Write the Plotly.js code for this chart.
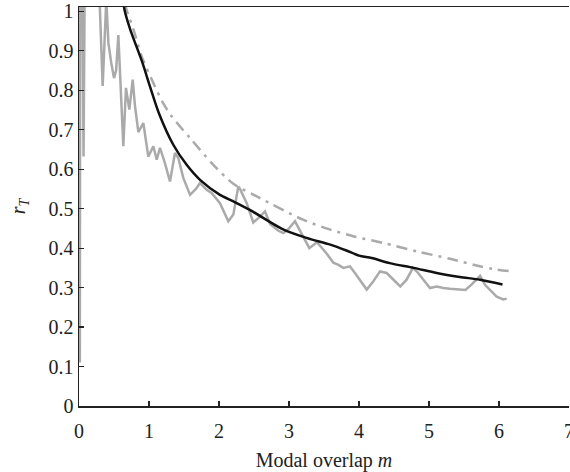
<!DOCTYPE html>
<html>
<head>
<meta charset="utf-8">
<script src="https://cdn.plot.ly/plotly-3.0.1.min.js"></script>
<style>html,body{margin:0;padding:0;overflow:hidden;background:#fff;}</style>
</head>
<body>
<div id="chart" style="width:570px;height:472px;"></div>
<script>
// Measured (noisy) r_T vs modal overlap m
var measM = [0.012,0.02,0.04,0.065,0.09,0.2,0.29,0.338,0.39,0.42,0.46,0.50,0.53,0.562,0.633,0.671,0.719,0.767,0.80,0.848,0.919,0.99,1.062,1.11,1.157,1.22,1.30,1.371,1.419,1.49,1.586,1.67,1.729,1.824,1.895,2.014,2.133,2.205,2.276,2.30,2.396,2.49,2.562,2.657,2.73,2.848,2.92,3.0,3.086,3.204,3.29,3.40,3.49,3.54,3.633,3.70,3.776,3.871,3.95,4.014,4.11,4.205,4.30,4.395,4.49,4.59,4.68,4.77,4.83,4.895,4.96,5.014,5.11,5.205,5.30,5.44,5.52,5.61,5.68,5.73,5.80,5.895,5.967,6.06,6.11];
var measR = [0.11,1.5,1.3,0.632,1.3,1.6,1.05,0.811,1.03,0.92,0.87,0.831,0.85,0.94,0.658,0.806,0.751,0.827,0.76,0.694,0.717,0.632,0.658,0.624,0.654,0.62,0.569,0.641,0.628,0.578,0.535,0.55,0.565,0.548,0.540,0.514,0.468,0.485,0.556,0.55,0.514,0.465,0.476,0.493,0.461,0.444,0.438,0.45,0.468,0.428,0.400,0.415,0.396,0.386,0.363,0.358,0.350,0.354,0.335,0.320,0.295,0.316,0.341,0.337,0.320,0.303,0.320,0.350,0.340,0.325,0.31,0.299,0.303,0.299,0.297,0.296,0.294,0.308,0.322,0.330,0.307,0.291,0.277,0.270,0.272];
// Smoothed estimate (black)
var smoothM = [0.63,0.65,0.73,0.90,1.01,1.15,1.347,1.538,1.729,2.014,2.2,2.44,2.9,3.25,3.59,3.82,4.0,4.18,4.44,4.78,5.11,5.44,5.73,6.05];
var smoothR = [1.03,1.004,0.955,0.873,0.812,0.738,0.662,0.611,0.573,0.535,0.519,0.497,0.449,0.426,0.409,0.394,0.381,0.375,0.362,0.350,0.337,0.327,0.320,0.308];
// Theoretical (dash-dot)
var theoM = [0.66,0.68,0.78,0.895,1.04,1.2,1.324,1.586,1.919,2.205,2.54,3.2,3.59,3.94,4.35,4.82,5.3,5.68,5.92,6.18];
var theoR = [1.02,1.004,0.953,0.886,0.827,0.768,0.734,0.679,0.611,0.563,0.531,0.472,0.447,0.429,0.413,0.392,0.373,0.356,0.347,0.341];
var xTicks = [0,1,2,3,4,5,6,7];
var yTicks = [0,0.1,0.2,0.3,0.4,0.5,0.6,0.7,0.8,0.9,1];
var yTickText = ['0','0.1','0.2','0.3','0.4','0.5','0.6','0.7','0.8','0.9','1'];

var grey = '#aaaaaa';
var traces = [
  {x: measM, y: measR, mode: 'lines', line: {color: grey, width: 2.5}, hoverinfo: 'skip'},
  {x: theoM, y: theoR, mode: 'lines', line: {color: grey, width: 2.5, dash: '11px,6px,3px,6px', shape: 'spline', smoothing: 0.8}, hoverinfo: 'skip'},
  {x: smoothM, y: smoothR, mode: 'lines', line: {color: '#111111', width: 2.5, shape: 'spline', smoothing: 0.8}, hoverinfo: 'skip'}
];
var font = {family: '"Liberation Serif", "Times New Roman", serif', size: 20, color: '#222'};
var layout = {
  width: 570, height: 472,
  margin: {l: 79, r: 1, t: 7, b: 65.5},
  showlegend: false,
  paper_bgcolor: '#fff', plot_bgcolor: '#fff',
  font: font,
  xaxis: {
    range: [0, 7], tickvals: xTicks, ticktext: xTicks.map(String),
    ticks: 'inside', ticklen: 5, tickwidth: 1.2, tickcolor: '#222',
    showline: true, linecolor: '#222', linewidth: 1.5, mirror: true,
    showgrid: false, zeroline: false, automargin: false,
    ticklabeloverflow: 'allow', ticklabelstandoff: 6,
    tickfont: font,
    title: {text: 'Modal overlap <i>m</i>', font: font, standoff: 14}
  },
  yaxis: {
    range: [0, 1.011], tickvals: yTicks, ticktext: yTickText,
    ticks: 'inside', ticklen: 5, tickwidth: 1.2, tickcolor: '#222',
    showline: true, linecolor: '#222', linewidth: 1.5, mirror: false,
    showgrid: false, zeroline: false, automargin: false,
    ticklabeloverflow: 'allow',
    tickfont: font,
    title: {text: '<i>r</i><sub><i>T</i></sub>', font: font, standoff: 17}
  }
};
Plotly.newPlot('chart', traces, layout, {staticPlot: true, displayModeBar: false});
</script>
</body>
</html>
